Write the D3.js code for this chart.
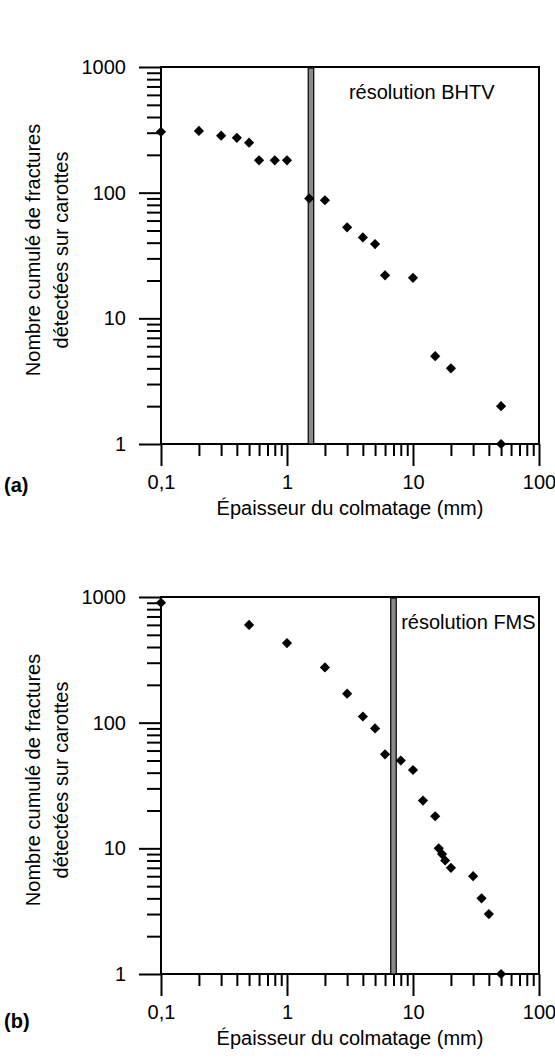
<!DOCTYPE html>
<html>
<style>
  body { margin: 0; background: #fff; overflow: hidden; }
  text { font-family: "Liberation Sans", Arial, Helvetica, sans-serif; font-size: 20px; fill: #000; }
  .tick line { stroke: #000; stroke-width: 2; }
  .tag { font-weight: bold; }
</style>
<script src="https://cdn.jsdelivr.net/npm/d3@7"></script>
<svg width="555" height="1059"></svg>
<script>
// épaisseur du colmatage (mm) / nombre cumulé de fractures
var epaisseurA = [0.1, 0.2, 0.3, 0.4, 0.5, 0.6, 0.8, 1, 1.5, 2, 3, 4, 5, 6, 10, 15, 20, 50, 50];
var nombreA    = [305, 310, 284, 273, 250, 181, 181, 181, 90, 87, 53, 44, 39, 22, 21, 5, 4, 2, 1];

var epaisseurB = [0.1, 0.5, 1, 2, 3, 4, 5, 6, 8, 10, 12, 15, 16, 17, 18, 20, 30, 35, 40, 50];
var nombreB    = [900, 600, 430, 275, 170, 112, 90, 56, 50, 42, 24, 18, 10, 9, 8, 7, 6, 4, 3, 1];

var xTicks = [0.1, 1, 10, 100];
var yTicks = [1, 10, 100, 1000];

var resolutions = [1.55, 7];
var resolutionLabels = ["résolution BHTV", "résolution FMS"];
var labelStart = [3.1, 8.05];
var tags = ["(a)", "(b)"];

var xTitle = "Épaisseur du colmatage (mm)";
var yTitle = ["Nombre cumulé de fractures", "détectées sur carottes"];

var svg = d3.select("svg");

var left = 161, right = 539, size = 377;
var tops = [67, 597];

var fmt = function(d) { return String(d).replace(".", ","); };

tops.forEach(function(top, i) {
  drawPanel(top, i, i == 0 ? epaisseurA : epaisseurB, i == 0 ? nombreA : nombreB);
});

function drawPanel(top, i, xs, ys) {
  var bottom = top + size;
  var x = d3.scaleLog().domain([0.1, 100]).range([left, right]),
      y = d3.scaleLog().domain([1, 1000]).range([bottom, top]);

  var g = svg.append("g");

  var minorX = x.ticks().filter(function(d) { return xTicks.indexOf(d) < 0 }),
      minorY = y.ticks().filter(function(d) { return yTicks.indexOf(d) < 0 });

  // minor ticks
  g.append("g")
      .attr("transform", "translate(0," + bottom + ")")
      .call(d3.axisBottom(x).tickValues(minorX).tickSize(12).tickSizeOuter(0).tickFormat(""));
  g.append("g")
      .attr("transform", "translate(" + left + ",0)")
      .call(d3.axisLeft(y).tickValues(minorY).tickSize(14).tickSizeOuter(0).tickFormat(""));

  // major ticks
  g.append("g")
      .attr("transform", "translate(0," + bottom + ")")
      .call(d3.axisBottom(x).tickValues(xTicks).tickSize(22).tickPadding(9).tickSizeOuter(0).tickFormat(fmt));
  g.append("g")
      .attr("transform", "translate(" + left + ",0)")
      .call(d3.axisLeft(y).tickValues(yTicks).tickSize(22).tickPadding(13).tickSizeOuter(0).tickFormat(fmt));

  g.selectAll(".domain").remove();
  g.selectAll("g").attr("font-size", null).attr("font-family", null);

  // frame
  g.append("rect")
      .attr("x", left)
      .attr("y", top)
      .attr("width", right - left)
      .attr("height", size)
      .style("fill", "none")
      .style("stroke", "#000")
      .style("stroke-width", 2);

  // resolution bar
  g.append("rect")
      .attr("x", x(resolutions[i]) - 2.75)
      .attr("y", top + 1)
      .attr("width", 5.5)
      .attr("height", size - 1)
      .style("fill", "#8a8a8a")
      .style("stroke", "#000")
      .style("stroke-width", 1.2);

  g.append("text")
      .attr("x", x(labelStart[i]))
      .attr("y", top + 32)
      .text(resolutionLabels[i]);

  // points
  var diamond = d3.symbol().type(d3.symbolSquare).size(52);
  g.selectAll(".pt")
      .data(d3.zip(xs, ys))
    .enter().append("path")
      .attr("class", "pt")
      .attr("d", diamond)
      .attr("transform", function(d) { return "translate(" + x(d[0]) + "," + y(d[1]) + ") rotate(45)" })
      .style("fill", "#000");

  // titles
  g.append("text")
      .attr("x", (left + right) / 2)
      .attr("y", bottom + 71)
      .attr("text-anchor", "middle")
      .text(xTitle);

  var yt = g.append("g")
      .attr("transform", "translate(40," + (top + 183) + ") rotate(-90)");
  yt.selectAll("text")
      .data(yTitle)
    .enter().append("text")
      .attr("y", function(d, j) { return j * 27.5 })
      .attr("text-anchor", "middle")
      .text(function(d) { return d });

  g.append("text")
      .attr("class", "tag")
      .attr("x", 4)
      .attr("y", bottom + (i == 0 ? 48 : 54))
      .text(tags[i]);
}
</script>
</html>
